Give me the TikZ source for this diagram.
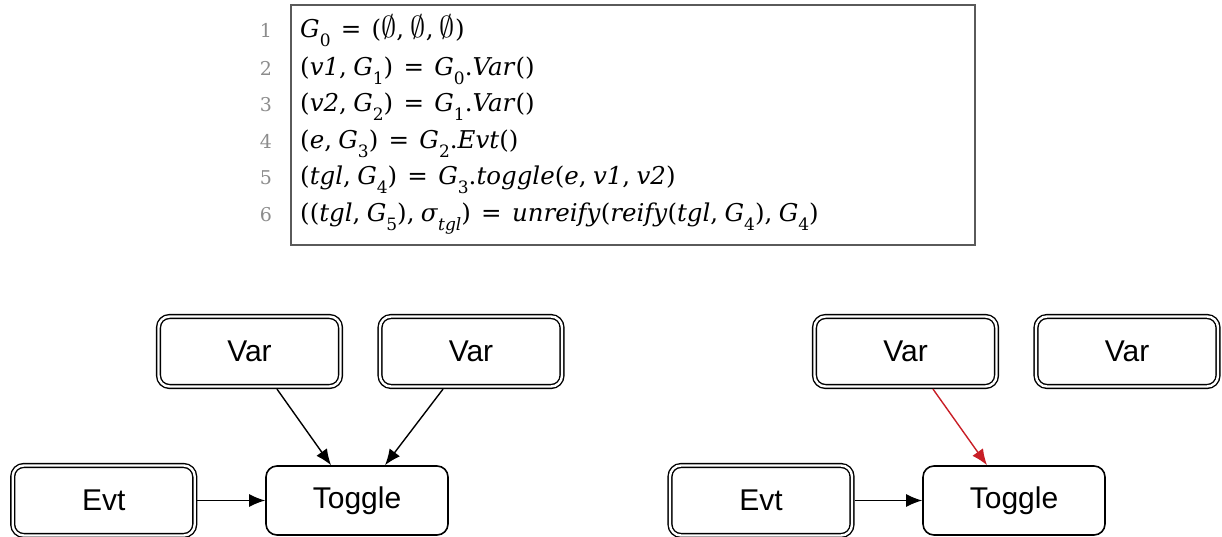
\documentclass[tikz,border=0pt]{standalone}
\usepackage{graphicx}
\usepackage{fontspec}
\setsansfont{Liberation Sans}
\newfontfamily\codefont{DejaVu Serif}
\usetikzlibrary{arrows.meta}
\definecolor{linkred}{RGB}{200,30,38}
\definecolor{numgray}{RGB}{140,140,140}
\definecolor{boxgray}{RGB}{90,90,90}
% italic identifiers, lowered index, spacing of the listing
\newcommand\ii[1]{\textit{#1}}
\newcommand\sub[1]{\raisebox{-0.33em}{\fontsize{17}{17}\selectfont #1}}
\newcommand\eq{\hspace{0.42em}=\hspace{0.42em}}
\newcommand\cm{,\hspace{0.26em}}
\newcommand\es{\scalebox{1.22}{$\emptyset$}}
\begin{document}
\begin{tikzpicture}[x=1pt,y=-1pt,
  box/.style={draw, rounded corners=11pt, minimum width=182pt, minimum height=70pt,
    font=\sffamily\fontsize{30}{36}\selectfont, inner sep=0pt},
  dbox/.style={box, double, line width=1.4pt, double distance=2.4pt, outer sep=2.6pt},
  sbox/.style={box, line width=1.6pt, minimum height=69pt},
  arr/.style={line width=1.4pt, -{Latex[length=16pt,width=13pt]}},
  code/.style={anchor=base west, inner sep=0pt, font=\codefont\fontsize{24.5}{28}\selectfont},
  lnum/.style={anchor=base, inner sep=0pt, text=numgray, font=\codefont\fontsize{19}{22}\selectfont}]
\useasboundingbox (0,0) rectangle (1222,537);

% listing frame
\draw[boxgray, line width=1.2pt] (291,5) rectangle (975,245);

% line numbers
\node[lnum] (n1) at (266,38)  {1};
\node[lnum] (n2) at (266,76)  {2};
\node[lnum] (n3) at (266,112) {3};
\node[lnum] (n4) at (266,149) {4};
\node[lnum] (n5) at (266,185) {5};
\node[lnum] (n6) at (266,222) {6};

% listing
\node[code] (c1) at (300,38)  {\ii{G}\sub{0}\eq(\es\cm\es\cm\es)};
\node[code] (c2) at (300,76)  {(\ii{v1}\cm\ii{G}\sub{1})\eq\ii{G}\sub{0}.\ii{Var}()};
\node[code] (c3) at (300,112) {(\ii{v2}\cm\ii{G}\sub{2})\eq\ii{G}\sub{1}.\ii{Var}()};
\node[code] (c4) at (300,149) {(\ii{e}\cm\ii{G}\sub{3})\eq\ii{G}\sub{2}.\ii{Evt}()};
\node[code] (c5) at (300,185) {(\ii{tgl}\cm\ii{G}\sub{4})\eq\ii{G}\sub{3}.\ii{toggle}(\ii{e}\cm\ii{v1}\cm\ii{v2})};
\node[code] (c6) at (300,222) {((\ii{tgl}\cm\ii{G}\sub{5})\cm\ii{σ}\sub{\ii{tgl}})\eq\ii{unreify}(\ii{reify}(\ii{tgl}\cm\ii{G}\sub{4})\cm\ii{G}\sub{4})};

% graph before reification
\node[dbox] (va) at (249.5,351.5) {Var};
\node[dbox] (vb) at (471,351.5)   {Var};
\node[dbox] (ea) at (103.7,500.5) {Evt};
\node[sbox] (ta) at (357,500.5)   {Toggle};
\draw[arr] ([xshift=27.5pt]va.south) -- ([xshift=-26pt]ta.north);
\draw[arr] ([xshift=-28pt]vb.south) -- ([xshift=28pt]ta.north);
\draw[arr] (ea.east) -- (ta.west);

% graph after reification
\node[dbox] (vc) at (905.5,351.5) {Var};
\node[dbox] (vd) at (1127,351.5)  {Var};
\node[dbox] (eb) at (761,500.5)   {Evt};
\node[sbox] (tb) at (1014,500.5)  {Toggle};
\draw[arr, linkred] ([xshift=27.5pt]vc.south) -- ([xshift=-27pt]tb.north);
\draw[arr] (eb.east) -- (tb.west);
\end{tikzpicture}
\end{document}
